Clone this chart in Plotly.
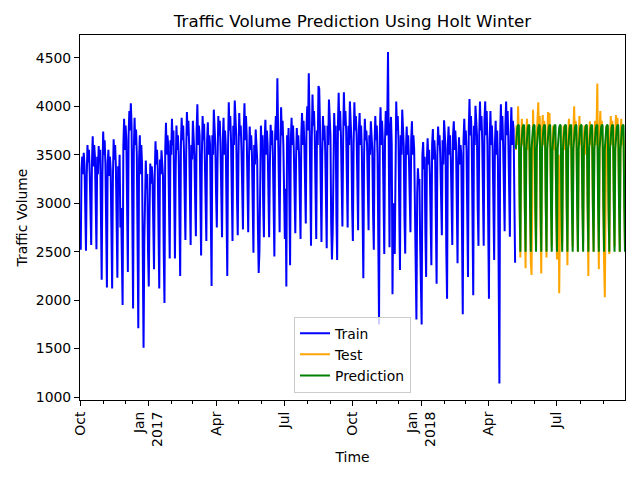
import pandas as pd
import plotly.graph_objects as go

# ---- data (daily traffic volume) ----
# train: weeks starting Saturday 2016-10-01, values [Sat, Sun, Mon, Tue, Wed, Thu, Fri]
train_weeks = [
    [2780, 2520, 3350, 3480, 3300, 3520, 3400],
    [3000, 2510, 3280, 3600, 3420, 3550, 3300],
    [2980, 2570, 3420, 3690, 3380, 3600, 3480],
    [2900, 2525, 3480, 3300, 3590, 3420, 3550],
    [2700, 2210, 3300, 3740, 3500, 3650, 3400],
    [2620, 2130, 3420, 3550, 3280, 3480, 3350],
    [2580, 2120, 3250, 3660, 3450, 3600, 3380],
    [2650, 2230, 3380, 3200, 3500, 2750, 2950],
    [2500, 1950, 3600, 3870, 3550, 3800, 3650],
    [2700, 2290, 3700, 3950, 3750, 4030, 3800],
    [2450, 1915, 3550, 3880, 3600, 3760, 3500],
    [2300, 1710, 3450, 3700, 3300, 3600, 3400],
    [2200, 1510, 2600, 3200, 3440, 3150, 3300],
    [2500, 2140, 2900, 3410, 3200, 3380, 3250],
    [2800, 2320, 3300, 3640, 3400, 3550, 3350],
    [2650, 2120, 3450, 3300, 3545, 3400, 3280],
    [2500, 1970, 3550, 3830, 3500, 3700, 3600],
    [2900, 2430, 3650, 3500, 3870, 3600, 3750],
    [2850, 2430, 3350, 3800, 3550, 3700, 3500],
    [2750, 2250, 3600, 3880, 3650, 3800, 3550],
    [3000, 2620, 3500, 3940, 3700, 3850, 3600],
    [2950, 2570, 3600, 3450, 3850, 3700, 3500],
    [3050, 2660, 3750, 4020, 3600, 3800, 3700],
    [2900, 2460, 3500, 3900, 3650, 3820, 3450],
    [2950, 2610, 3650, 3835, 3500, 3700, 3600],
    [2650, 2145, 3700, 3500, 3965, 3750, 3600],
    [3100, 2750, 3450, 3900, 3700, 3850, 3550],
    [3000, 2650, 3650, 3880, 3500, 3750, 3600],
    [2700, 2250, 3550, 4040, 3750, 3900, 3650],
    [3000, 2610, 3800, 3600, 4060, 3850, 3700],
    [3050, 2670, 3500, 3930, 3700, 3800, 3550],
    [3100, 2730, 3750, 4030, 3650, 3900, 3700],
    [3150, 2700, 3450, 3790, 3550, 3700, 3500],
    [2900, 2490, 3600, 3400, 3760, 3600, 3450],
    [2750, 2280, 2500, 3600, 3800, 3550, 3700],
    [3000, 2650, 3650, 3860, 3500, 3750, 3600],
    [3050, 2650, 3400, 3810, 3600, 3750, 3500],
    [2900, 2450, 3700, 3900, 3650, 4290, 3750],
    [3100, 2700, 3550, 3990, 3700, 3850, 3600],
    [2950, 2630, 3150, 2140, 3700, 3550, 3775],
    [2750, 2360, 3650, 3880, 3600, 3800, 3550],
    [3050, 2690, 3450, 3775, 3550, 3700, 3500],
    [3000, 2630, 3700, 3930, 3600, 3850, 3650],
    [3150, 2790, 3800, 4000, 3750, 4340, 3900],
    [2950, 2560, 3650, 4120, 3800, 3950, 3700],
    [3000, 2630, 3750, 3600, 4210, 4180, 3800],
    [3000, 2600, 3500, 3900, 3650, 3800, 3550],
    [2900, 2535, 3800, 3600, 4070, 3850, 3700],
    [2800, 2420, 2700, 3750, 3930, 3650, 3800],
    [2850, 2415, 3800, 4140, 3750, 3950, 3700],
    [3100, 2760, 3650, 4145, 3800, 3950, 3750],
    [3100, 2750, 3800, 3600, 4050, 3850, 3650],
    [2950, 2610, 3600, 4040, 3750, 3900, 3700],
    [3050, 2720, 3750, 3930, 3600, 3800, 3550],
    [2650, 2225, 3500, 3870, 3650, 3750, 3600],
    [3050, 2720, 3700, 3500, 3845, 3650, 3550],
    [2900, 2520, 3600, 3900, 3650, 3800, 3500],
    [2300, 1750, 3700, 3990, 3600, 3850, 3650],
    [2850, 2475, 3650, 3950, 3700, 3850, 4560],
    [2950, 2545, 3750, 3890, 3600, 2060, 3000],
    [2850, 2475, 3600, 4050, 3750, 3900, 3650],
    [2700, 2310, 3700, 3500, 3965, 3750, 3600],
    [2850, 2480, 3550, 3790, 3500, 3700, 3450],
    [3100, 2700, 3650, 3845, 3500, 3700, 3550],
    [2700, 1900, 1800, 3100, 3360, 3200, 3250],
    [2600, 2100, 1750, 3500, 3630, 3350, 3480],
    [2700, 2240, 3450, 3670, 3400, 3550, 3300],
    [2800, 2360, 3600, 3765, 3450, 3650, 3500],
    [2650, 2170, 3500, 3790, 3600, 3700, 3450],
    [3050, 2670, 3650, 3400, 3855, 3700, 3550],
    [2500, 2015, 3600, 3790, 3500, 3700, 3450],
    [2950, 2570, 3700, 3845, 3550, 3750, 3600],
    [2800, 2380, 3450, 3680, 3400, 3600, 3500],
    [2350, 1855, 3650, 3870, 3600, 3750, 3550],
    [2700, 2240, 3750, 4075, 3700, 3900, 3650],
    [2550, 2050, 3800, 3600, 4005, 3850, 3700],
    [2950, 2560, 3700, 4050, 3750, 3900, 3650],
    [2950, 2560, 3850, 4050, 3700, 3950, 3600],
    [2500, 2015, 3650, 3950, 3600, 3800, 3550],
    [2850, 2415, 3600, 3850, 3500, 3750, 3450],
    [2200, 1140, 3700, 4020, 3650, 3900, 3600],
    [3100, 2710, 3800, 4050, 3700, 3950, 3650],
    [3050, 2655, 3700, 3990, 3600, 3850, 3760],
    [2800, 2385],
]

# test: starts Monday 2018-05-07
test_weeks = [
    [3550, 3800, 3600, 4000, 3700],
    [2900, 2440, 3650, 3870, 3600, 3800, 3550],
    [2800, 2330, 3750, 3870, 3550, 3800, 3600],
    [2850, 2400, 2260, 3800, 3965, 3650, 3750],
    [2950, 2550, 3700, 3850, 4040, 3700, 3900],
    [2750, 2275, 3750, 3910, 3600, 3850, 3650],
    [2900, 2440, 3650, 3940, 3700, 3930, 3600],
    [2950, 2550, 3700, 3800, 3550, 3750, 3600],
    [2850, 2420, 3300, 3500, 2070, 3400, 3500],
    [2950, 2600, 3650, 3800, 3550, 3780, 3600],
    [2800, 2360, 3700, 3870, 3600, 3800, 3550],
    [2950, 2550, 3750, 4000, 3650, 3850, 3700],
    [2900, 2500, 3650, 3900, 3600, 3800, 3550],
    [2950, 2600, 3700, 3800, 3500, 3780, 3650],
    [2700, 2250, 3650, 3845, 3600, 3800, 3550],
    [2900, 2500, 3700, 3850, 3600, 3800, 4235],
    [2750, 2320, 3750, 3950, 3650, 3850, 3600],
    [2600, 2400, 2030, 3650, 3800, 3600, 3780],
    [2900, 2475, 3700, 3900, 3600, 3850, 3650],
    [2950, 2550, 3750, 3910, 3650, 3880, 3600],
    [2900, 2500, 3700, 3870, 3600, 3800, 3650],
    [2950, 2550],
]

# Holt-Winters prediction over the test period, weeks [Mon..Sun]
pred_weeks = [
    [3560, 3720, 3780, 3810, 3800, 2980, 2500],
    [3560, 3720, 3780, 3810, 3800, 2980, 2500],
    [3560, 3720, 3780, 3810, 3800, 2980, 2500],
    [3560, 3720, 3780, 3810, 3800, 2980, 2500],
    [3560, 3720, 3780, 3810, 3800, 2980, 2500],
    [3560, 3720, 3780, 3810, 3800, 2980, 2500],
    [3560, 3720, 3780, 3810, 3800, 2980, 2500],
    [3560, 3720, 3780, 3810, 3800, 2980, 2500],
    [3560, 3720, 3780, 3810, 3800, 2980, 2500],
    [3560, 3720, 3780, 3810, 3800, 2980, 2500],
    [3560, 3720, 3780, 3810, 3800, 2980, 2500],
    [3560, 3720, 3780, 3810, 3800, 2980, 2500],
    [3560, 3720, 3780, 3810, 3800, 2980, 2500],
    [3560, 3720, 3780, 3810, 3800, 2980, 2500],
    [3560, 3720, 3780, 3810, 3800, 2980, 2500],
    [3560, 3720, 3780, 3810, 3800, 2980, 2500],
    [3560, 3720, 3780, 3810, 3800, 2980, 2500],
    [3560, 3720, 3780, 3810, 3800, 2980, 2500],
    [3560, 3720, 3780, 3810, 3800, 2980, 2500],
    [3560, 3720, 3780, 3810, 3800, 2980, 2500],
    [3560, 3720, 3780, 3810, 3800, 2980, 2500],
]

x_tick_dates = ["2016-10-01", "2017-01-01", "2017-04-01", "2017-07-01",
                "2017-10-01", "2018-01-01", "2018-04-01", "2018-07-01"]
x_tick_labels = ["Oct", "Jan<br>2017", "Apr", "Jul", "Oct", "Jan<br>2018", "Apr", "Jul"]
y_ticks = [1000, 1500, 2000, 2500, 3000, 3500, 4000, 4500]

train = [v for w in train_weeks for v in w]
test = [v for w in test_weeks for v in w]
pred = [v for w in pred_weeks for v in w]

train_idx = pd.date_range("2016-10-01", periods=len(train), freq="D")
test_idx = pd.date_range(train_idx[-1] + pd.Timedelta(days=1), periods=len(test), freq="D")

FONT = "DejaVu Sans"
fig = go.Figure()
fig.add_trace(go.Scatter(x=train_idx, y=train, mode="lines", name="Train",
                         line=dict(color="blue", width=2)))
fig.add_trace(go.Scatter(x=test_idx, y=test, mode="lines", name="Test",
                         line=dict(color="orange", width=2)))
fig.add_trace(go.Scatter(x=test_idx, y=pred, mode="lines", name="Prediction",
                         line=dict(color="green", width=2)))

fig.update_layout(
    width=640, height=480,
    margin=dict(l=80, r=15, t=35, b=80, autoexpand=False),
    paper_bgcolor="white", plot_bgcolor="white",
    font=dict(family=FONT, size=13.9, color="black"),
    title=dict(text="Traffic Volume Prediction Using Holt Winter",
               x=0.5, xref="paper", xanchor="center",
               y=1 - 21 / 480, yref="container", yanchor="middle",
               automargin=False,
               font=dict(family=FONT, size=16.7, color="black")),
    showlegend=True,
    legend=dict(x=0.5, xanchor="center", y=0.02, yanchor="bottom",
                bgcolor="rgba(255,255,255,0.8)", bordercolor="#cccccc", borderwidth=1,
                font=dict(family=FONT, size=13.9), tracegroupgap=0),
)
fig.update_xaxes(
    type="date", automargin=False,
    range=[train_idx[0], test_idx[-1]],
    tickmode="array", tickvals=x_tick_dates, ticktext=x_tick_labels,
    tickangle=-90, ticks="outside", ticklen=5, tickwidth=1.1, tickcolor="black",
    minor=dict(ticks="outside", dtick="M1", tick0="2016-10-01", ticklen=3,
               tickwidth=0.9, tickcolor="black", showgrid=False),
    showline=True, linecolor="black", linewidth=1.1, mirror=True,
    showgrid=False, zeroline=False,
    title=dict(text="Time", font=dict(family=FONT, size=13.9), standoff=6),
)
fig.update_yaxes(
    range=[970, 4735], automargin=False,
    tickmode="array", tickvals=y_ticks,
    ticks="outside", ticklen=5, tickwidth=1.1, tickcolor="black",
    showline=True, linecolor="black", linewidth=1.1, mirror=True,
    showgrid=False, zeroline=False,
    title=dict(text="Traffic Volume", font=dict(family=FONT, size=13.9), standoff=4),
)

fig.write_html("out.html", config={"displayModeBar": False},
               post_script="document.body.style.margin='0';")
